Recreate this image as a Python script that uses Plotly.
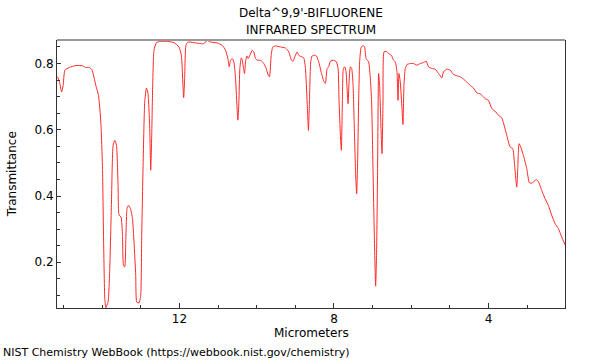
import plotly.graph_objects as go

# Wavelength (micrometers) and transmittance
wavelength_um = [
    15.155, 15.096, 15.052, 15.010, 14.966, 14.855, 14.682, 14.509, 14.424, 14.339,
    14.269, 14.165, 14.096, 14.036, 13.992, 13.966, 13.933, 13.907, 13.848, 13.804,
    13.760, 13.718, 13.674, 13.630, 13.589, 13.563, 13.512, 13.475, 13.450, 13.416,
    13.390, 13.357, 13.320, 13.269, 13.217, 13.176, 13.132, 13.106, 13.047, 13.003,
    12.977, 12.943, 12.899, 12.855, 12.814, 12.770, 12.744, 12.718, 12.693, 12.659,
    12.597, 12.486, 12.313, 12.142, 12.013, 11.951, 11.910, 11.891, 11.866, 11.832,
    11.780, 11.625, 11.452, 11.367, 11.279, 11.194, 11.021, 10.891, 10.806, 10.747,
    10.711, 10.677, 10.633, 10.592, 10.548, 10.504, 10.488, 10.462, 10.437, 10.400,
    10.375, 10.341, 10.315, 10.289, 10.256, 10.220, 10.178, 10.116, 10.075, 10.031,
    9.987, 9.902, 9.817, 9.755, 9.703, 9.669, 9.625, 9.584, 9.514, 9.385,
    9.256, 9.170, 9.101, 9.057, 9.015, 8.953, 8.912, 8.868, 8.783, 8.739,
    8.695, 8.661, 8.636, 8.602, 8.566, 8.499, 8.455, 8.395, 8.333, 8.266,
    8.222, 8.178, 8.137, 8.093, 8.008, 7.938, 7.894, 7.868, 7.834, 7.809,
    7.783, 7.757, 7.723, 7.687, 7.661, 7.635, 7.610, 7.576, 7.542, 7.506,
    7.473, 7.439, 7.413, 7.388, 7.362, 7.336, 7.300, 7.248, 7.207, 7.170,
    7.103, 7.059, 7.026, 6.990, 6.956, 6.922, 6.897, 6.871, 6.845, 6.819,
    6.783, 6.757, 6.731, 6.705, 6.653, 6.586, 6.516, 6.457, 6.413, 6.369,
    6.343, 6.318, 6.284, 6.240, 6.214, 6.189, 6.155, 6.111, 6.026, 5.941,
    5.853, 5.767, 5.682, 5.612, 5.553, 5.465, 5.380, 5.294, 5.207, 5.165,
    5.078, 4.992, 4.907, 4.819, 4.734, 4.648, 4.561, 4.475, 4.390, 4.302,
    4.217, 4.132, 4.088, 4.003, 3.915, 3.829, 3.744, 3.656, 3.597, 3.527,
    3.442, 3.372, 3.331, 3.295, 3.269, 3.243, 3.209, 3.165, 3.098, 3.010,
    2.943, 2.881, 2.840, 2.770, 2.711, 2.622, 2.537, 2.452, 2.364, 2.278,
    2.193, 2.105, 2.020,
]

transmittance = [
    0.760, 0.740, 0.714, 0.734, 0.780, 0.788, 0.794, 0.793, 0.788, 0.788,
    0.782, 0.734, 0.704, 0.624, 0.484, 0.281, 0.091, 0.063, 0.080, 0.182,
    0.382, 0.553, 0.568, 0.553, 0.432, 0.342, 0.337, 0.281, 0.191, 0.186,
    0.261, 0.362, 0.372, 0.362, 0.332, 0.261, 0.160, 0.080, 0.077, 0.100,
    0.281, 0.484, 0.684, 0.726, 0.709, 0.604, 0.478, 0.583, 0.734, 0.840,
    0.863, 0.867, 0.867, 0.863, 0.850, 0.825, 0.734, 0.697, 0.755, 0.855,
    0.865, 0.863, 0.860, 0.860, 0.870, 0.865, 0.862, 0.855, 0.840, 0.815,
    0.790, 0.810, 0.815, 0.805, 0.755, 0.654, 0.629, 0.684, 0.785, 0.817,
    0.810, 0.785, 0.770, 0.805, 0.823, 0.815, 0.825, 0.840, 0.835, 0.815,
    0.810, 0.810, 0.800, 0.785, 0.765, 0.760, 0.825, 0.850, 0.853, 0.850,
    0.847, 0.835, 0.810, 0.807, 0.820, 0.835, 0.825, 0.822, 0.817, 0.785,
    0.684, 0.598, 0.684, 0.805, 0.823, 0.825, 0.823, 0.805, 0.775, 0.747,
    0.740, 0.785, 0.790, 0.807, 0.810, 0.805, 0.785, 0.684, 0.583, 0.538,
    0.684, 0.785, 0.790, 0.775, 0.724, 0.679, 0.744, 0.790, 0.785, 0.734,
    0.604, 0.463, 0.407, 0.503, 0.684, 0.805, 0.847, 0.855, 0.850, 0.815,
    0.805, 0.755, 0.684, 0.483, 0.281, 0.128, 0.231, 0.483, 0.770, 0.734,
    0.604, 0.528, 0.684, 0.835, 0.837, 0.830, 0.825, 0.810, 0.805, 0.775,
    0.689, 0.770, 0.744, 0.664, 0.616, 0.734, 0.785, 0.797, 0.800, 0.800,
    0.795, 0.800, 0.803, 0.807, 0.790, 0.785, 0.783, 0.770, 0.757, 0.775,
    0.783, 0.780, 0.767, 0.763, 0.760, 0.753, 0.744, 0.734, 0.726, 0.711,
    0.709, 0.699, 0.694, 0.689, 0.664, 0.656, 0.644, 0.636, 0.614, 0.583,
    0.548, 0.543, 0.503, 0.453, 0.427, 0.483, 0.558, 0.548, 0.523, 0.483,
    0.440, 0.439, 0.442, 0.450, 0.444, 0.417, 0.392, 0.372, 0.342, 0.317,
    0.302, 0.276, 0.253,
]

title_lines = ["Delta^9,9'-BIFLUORENE", "INFRARED SPECTRUM"]
x_label = "Micrometers"
y_label = "Transmittance"
footer = "NIST Chemistry WebBook (https://webbook.nist.gov/chemistry)"

FONT = "DejaVu Sans"
AX = "#333333"

fig = go.Figure()
fig.add_trace(go.Scatter(
    x=wavelength_um, y=transmittance, mode="lines",
    line=dict(color="rgb(255,40,40)", width=1, shape="spline", smoothing=0.5),
    hoverinfo="x+y", showlegend=False,
))

fig.update_layout(
    width=600, height=360,
    margin=dict(l=57, r=35, t=40, b=52),
    paper_bgcolor="white", plot_bgcolor="white",
    font=dict(family=FONT, size=12, color="black"),
    showlegend=False,
    xaxis=dict(
        range=[15.17, 2.02], showgrid=False, zeroline=False,
        showline=True, linecolor=AX, linewidth=1, mirror=False,
        tickmode="linear", tick0=0, dtick=4,
        ticks="inside", ticklen=5, tickcolor=AX, tickwidth=1,
        minor=dict(dtick=1, tick0=0, ticks="inside", ticklen=3, tickcolor=AX, showgrid=False),
        tickfont=dict(family=FONT, size=12, color="black"),
    ),
    yaxis=dict(
        range=[0.062, 0.871], showgrid=False, zeroline=False,
        showline=True, linecolor=AX, linewidth=1, mirror=True,
        tickmode="linear", tick0=0, dtick=0.2, tickformat=".1f",
        ticks="inside", ticklen=4, tickcolor=AX, tickwidth=1,
        minor=dict(dtick=0.05, tick0=0, ticks="inside", ticklen=3, tickcolor=AX, showgrid=False),
        tickfont=dict(family=FONT, size=12, color="black"),
    ),
    shapes=[dict(type="line", xref="paper", yref="paper", x0=0, x1=1, y0=1, y1=1,
                 line=dict(color="#999999", width=2))],
)

ann = []
ann.append(dict(text=title_lines[0], xref="paper", yref="paper", x=0.5, y=1.0996,
                xanchor="center", yanchor="middle", showarrow=False,
                font=dict(family=FONT, size=12, color="black")))
ann.append(dict(text=title_lines[1], xref="paper", yref="paper", x=0.5, y=1.036,
                xanchor="center", yanchor="middle", showarrow=False,
                font=dict(family=FONT, size=12, color="black")))
ann.append(dict(text=x_label, xref="paper", yref="paper", x=0.5, y=-0.093,
                xanchor="center", yanchor="middle", showarrow=False,
                font=dict(family=FONT, size=12, color="black")))
ann.append(dict(text=y_label, xref="paper", yref="paper", x=-0.088, y=0.5,
                xanchor="center", yanchor="middle", showarrow=False, textangle=-90,
                font=dict(family=FONT, size=12, color="black")))
ann.append(dict(text=footer, xref="paper", yref="paper", x=-0.110, y=-0.165,
                xanchor="left", yanchor="middle", showarrow=False,
                font=dict(family=FONT, size=11, color="black")))
fig.update_layout(annotations=ann)

fig.write_html("out.html", config={"displayModeBar": False},
               post_script="document.body.style.margin='0';document.body.style.padding='0';")
